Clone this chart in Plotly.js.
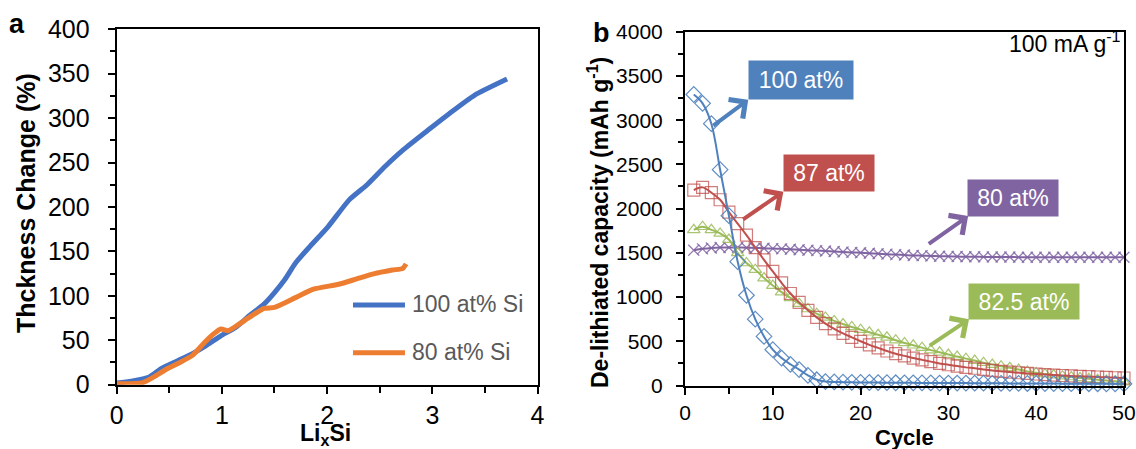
<!DOCTYPE html>
<html>
<head>
<meta charset="utf-8">
<script src="https://cdn.plot.ly/plotly-3.0.1.min.js"></script>
<style>html,body{margin:0;padding:0;background:#fff;}#chart{width:1136px;height:449px;}</style>
</head>
<body>
<div id="chart"></div>
<script>
// ---------- Panel a: thickness change vs LixSi ----------
const liX100 = [0, 0.14, 0.31, 0.43, 0.58, 0.72, 0.85, 0.99, 1.13, 1.26, 1.40, 1.50, 1.60, 1.70, 1.84, 2.01, 2.21, 2.38, 2.55, 2.72, 2.96, 3.16, 3.40, 3.71];
const thick100 = [2, 4, 8.6, 18.7, 27, 35, 44, 55, 64.5, 77.6, 90.7, 103.7, 118.7, 137, 156, 178, 208, 225, 245.5, 264, 286.6, 305, 325.7, 344];
const liX80 = [0, 0.24, 0.35, 0.48, 0.60, 0.72, 0.84, 0.92, 0.99, 1.06, 1.16, 1.26, 1.40, 1.50, 1.70, 1.87, 2.11, 2.28, 2.45, 2.62, 2.72, 2.75];
const thick80 = [1, 2, 8.6, 18, 25, 33, 48, 57, 62.7, 60.8, 68, 75.7, 85.8, 87, 98, 107.5, 113, 119, 125, 129, 131, 136];
const legendA = ["100 at% Si", "80 at% Si"];

// ---------- Panel b: de-lithiated capacity vs cycle ----------
const cycles = [1,2,3,4,5,6,7,8,9,10,11,12,13,14,15,16,17,18,19,20,21,22,23,24,25,26,27,28,29,30,31,32,33,34,35,36,37,38,39,40,41,42,43,44,45,46,47,48,49,50];
const cap100 = [3290, 3190, 2960, 2440, 1920, 1400, 1020, 750, 555, 405, 310, 240, 180, 115, 65, 45, 40, 38, 36, 35, 34, 33, 32, 31, 30, 30, 29, 29, 28, 28, 27, 27, 26, 26, 25, 25, 24, 24, 23, 23, 22, 22, 21, 21, 20, 20, 20, 19, 19, 19];
const cap87 = [2210, 2240, 2180, 2100, 1960, 1830, 1700, 1560, 1420, 1290, 1160, 1040, 940, 850, 770, 700, 640, 590, 545, 500, 460, 425, 390, 360, 335, 310, 290, 270, 250, 235, 220, 205, 195, 182, 170, 160, 152, 144, 137, 130, 124, 118, 113, 108, 104, 100, 96, 92, 88, 85];
const cap825 = [1760, 1795, 1760, 1720, 1650, 1500, 1385, 1310, 1215, 1130, 1055, 990, 925, 865, 812, 770, 730, 695, 662, 632, 602, 573, 545, 512, 481, 455, 428, 400, 375, 350, 327, 304, 282, 258, 237, 218, 200, 180, 160, 143, 130, 118, 106, 96, 86, 76, 66, 56, 47, 38];
const cap80 = [1530, 1545, 1555, 1560, 1560, 1560, 1558, 1555, 1552, 1548, 1545, 1540, 1535, 1530, 1525, 1520, 1515, 1510, 1505, 1500, 1495, 1490, 1485, 1480, 1475, 1470, 1468, 1465, 1462, 1460, 1458, 1456, 1455, 1454, 1453, 1452, 1452, 1451, 1451, 1450, 1450, 1450, 1450, 1450, 1450, 1450, 1450, 1450, 1450, 1450];
const labelsB = ["100 at%", "87 at%", "80 at%", "82.5 at%"];

const FONT = "Arial, 'Liberation Sans', sans-serif";
const cA100 = "#4472C4", cA80 = "#ED7D31";
const cBlue = "#4F81BD", cRed = "#C0504D", cGreen = "#9BBB59", cPurple = "#8064A2";

const traces = [
  {x: liX100, y: thick100, xaxis: "x", yaxis: "y", mode: "lines", line: {color: cA100, width: 5, shape: "spline", smoothing: 0.6}, showlegend: false, name: legendA[0]},
  {x: liX80, y: thick80, xaxis: "x", yaxis: "y", mode: "lines", line: {color: cA80, width: 5, shape: "spline", smoothing: 0.6}, showlegend: false, name: legendA[1]},
  {x: cycles, y: cap80, xaxis: "x2", yaxis: "y2", mode: "lines+markers", cliponaxis: false, showlegend: false, name: labelsB[2],
   line: {color: cPurple, width: 2, shape: "spline", smoothing: 1}, marker: {symbol: "x-thin-open", size: 11, color: cPurple, opacity: 0.85, line: {color: cPurple, width: 1.3}}},
  {x: cycles, y: cap825, xaxis: "x2", yaxis: "y2", mode: "lines+markers", cliponaxis: false, showlegend: false, name: labelsB[3],
   line: {color: cGreen, width: 2, shape: "spline", smoothing: 1}, marker: {symbol: "triangle-up-open", size: 11, color: cGreen, opacity: 0.85, line: {color: cGreen, width: 1.2}}},
  {x: cycles, y: cap87, xaxis: "x2", yaxis: "y2", mode: "lines+markers", cliponaxis: false, showlegend: false, name: labelsB[1],
   line: {color: cRed, width: 2, shape: "spline", smoothing: 1}, marker: {symbol: "square-open", size: 12, color: cRed, opacity: 0.75, line: {color: cRed, width: 1.2}}},
  {x: cycles, y: cap100, xaxis: "x2", yaxis: "y2", mode: "lines+markers", cliponaxis: false, showlegend: false, name: labelsB[0],
   line: {color: cBlue, width: 2, shape: "spline", smoothing: 1}, marker: {symbol: "diamond-open", size: 12, color: cBlue, opacity: 0.9, line: {color: cBlue, width: 1.2}}}
];

function axisBase(extra) {
  return Object.assign({
    showgrid: false, zeroline: false, showline: true, linecolor: "#000", linewidth: 2, mirror: true,
    ticks: "outside", ticklen: 7, tickwidth: 2, tickcolor: "#000", fixedrange: true
  }, extra);
}

function ann(o) {
  return Object.assign({xref: "paper", yref: "paper", xanchor: "center", yanchor: "middle", showarrow: false}, o);
}

const layout = {
  width: 1136, height: 449,
  margin: {l: 0, r: 0, t: 0, b: 0},
  paper_bgcolor: "#fff", plot_bgcolor: "#fff",
  showlegend: false,
  xaxis: axisBase({domain: [0.1027, 0.4732], range: [0, 4], dtick: 1, tick0: 0, anchor: "y", tickfont: {family: FONT, size: 25, color: "#000"}, ticklabelstandoff: 0,
    minor: {dtick: 0.5, ticks: "outside", ticklen: 6, tickwidth: 2, tickcolor: "#000"}}),
  yaxis: axisBase({domain: [0.1432, 0.9348], range: [0, 400], dtick: 50, tick0: 0, anchor: "x", tickfont: {family: FONT, size: 25, color: "#000"}, ticklabelstandoff: 13,
    minor: {dtick: 25, ticks: "outside", ticklen: 5, tickwidth: 2, tickcolor: "#000"}}),
  xaxis2: axisBase({domain: [0.6030, 0.9894], range: [0, 50], dtick: 10, tick0: 0, anchor: "y2", tickfont: {family: FONT, size: 21, color: "#000"}, ticklabelstandoff: 0,
    minor: {dtick: 5, ticks: "outside", ticklen: 6, tickwidth: 2, tickcolor: "#000"}}),
  yaxis2: axisBase({domain: [0.1414, 0.9294], range: [0, 4000], dtick: 500, tick0: 0, anchor: "x2", tickfont: {family: FONT, size: 21, color: "#000"}, ticklabelstandoff: 9,
    minor: {dtick: 250, ticks: "outside", ticklen: 5, tickwidth: 2, tickcolor: "#000"}}),
  shapes: [
    {type: "line", xref: "x", yref: "y", x0: 2.246, x1: 2.74, y0: 89.7, y1: 89.7, line: {color: cA100, width: 5}},
    {type: "line", xref: "x", yref: "y", x0: 2.246, x1: 2.74, y0: 36, y1: 36, line: {color: cA80, width: 5}}
  ],
  annotations: [
    // panel letters
    ann({x: 17 / 1136, y: 1 - 24 / 449, text: "<b>a</b>", font: {family: FONT, size: 27, color: "#000"}}),
    ann({x: 601 / 1136, y: 1 - 33 / 449, text: "<b>b</b>", font: {family: FONT, size: 27, color: "#000"}}),
    // axis titles
    ann({x: 26 / 1136, y: 1 - 203 / 449, text: "<b>Thckness Change (%)</b>", textangle: -90, font: {family: FONT, size: 25, color: "#000"}}),
    ann({x: 325 / 1136, y: 1 - 434 / 449, text: "<b>Li<sub>x</sub>Si</b>", font: {family: FONT, size: 23, color: "#000"}}),
    ann({x: 598 / 1136, y: 1 - 223 / 449, text: "<b>De-lithiated capacity (mAh g<sup>-1</sup>)</b>", textangle: -90, font: {family: FONT, size: 23, color: "#000"}}),
    ann({x: 904 / 1136, y: 1 - 437 / 449, text: "<b>Cycle</b>", font: {family: FONT, size: 22, color: "#000"}}),
    // legend texts panel a
    ann({xref: "x", yref: "y", x: 2.79, y: 91, xanchor: "left", text: legendA[0], font: {family: FONT, size: 23, color: "#595959"}}),
    ann({xref: "x", yref: "y", x: 2.79, y: 37, xanchor: "left", text: legendA[1], font: {family: FONT, size: 23, color: "#595959"}}),
    // rate label
    ann({x: 1123 / 1136, y: 1 - 42 / 449, xanchor: "right", text: "100 mA g<sup>-1</sup>", font: {family: FONT, size: 23, color: "#000"}}),
    // boxed series labels
    ann({xref: "x2", yref: "y2", x: 13.2, y: 3454, text: labelsB[0], bgcolor: cBlue, width: 104, height: 38, borderpad: 0, font: {family: FONT, size: 23, color: "#fff"}}),
    ann({xref: "x2", yref: "y2", x: 16.4, y: 2402, text: labelsB[1], bgcolor: cRed, width: 90, height: 36, borderpad: 0, font: {family: FONT, size: 23, color: "#fff"}}),
    ann({xref: "x2", yref: "y2", x: 37.36, y: 2120, text: labelsB[2], bgcolor: cPurple, width: 90, height: 36, borderpad: 0, font: {family: FONT, size: 23, color: "#fff"}}),
    ann({xref: "x2", yref: "y2", x: 38.6, y: 950, text: labelsB[3], bgcolor: cGreen, width: 110, height: 35, borderpad: 0, font: {family: FONT, size: 23, color: "#fff"}}),
    // arrows
    {xref: "x2", yref: "y2", axref: "x2", ayref: "y2", x: 7.2, y: 3230, ax: 3.05, ay: 2925, text: "", showarrow: true, arrowhead: 4, arrowsize: 1.15, arrowwidth: 4, arrowcolor: cBlue, standoff: 0, startstandoff: 0},
    {xref: "x2", yref: "y2", axref: "x2", ayref: "y2", x: 11.2, y: 2190, ax: 6.45, ay: 1867, text: "", showarrow: true, arrowhead: 4, arrowsize: 1.15, arrowwidth: 4, arrowcolor: cRed, standoff: 0, startstandoff: 0},
    {xref: "x2", yref: "y2", axref: "x2", ayref: "y2", x: 32.25, y: 1915, ax: 27.6, ay: 1590, text: "", showarrow: true, arrowhead: 4, arrowsize: 1.15, arrowwidth: 4, arrowcolor: cPurple, standoff: 0, startstandoff: 0},
    {xref: "x2", yref: "y2", axref: "x2", ayref: "y2", x: 32.35, y: 748, ax: 27.7, ay: 440, text: "", showarrow: true, arrowhead: 4, arrowsize: 1.15, arrowwidth: 4, arrowcolor: cGreen, standoff: 0, startstandoff: 0}
  ]
};

Plotly.newPlot("chart", traces, layout, {displayModeBar: false, staticPlot: true});
</script>
</body>
</html>
